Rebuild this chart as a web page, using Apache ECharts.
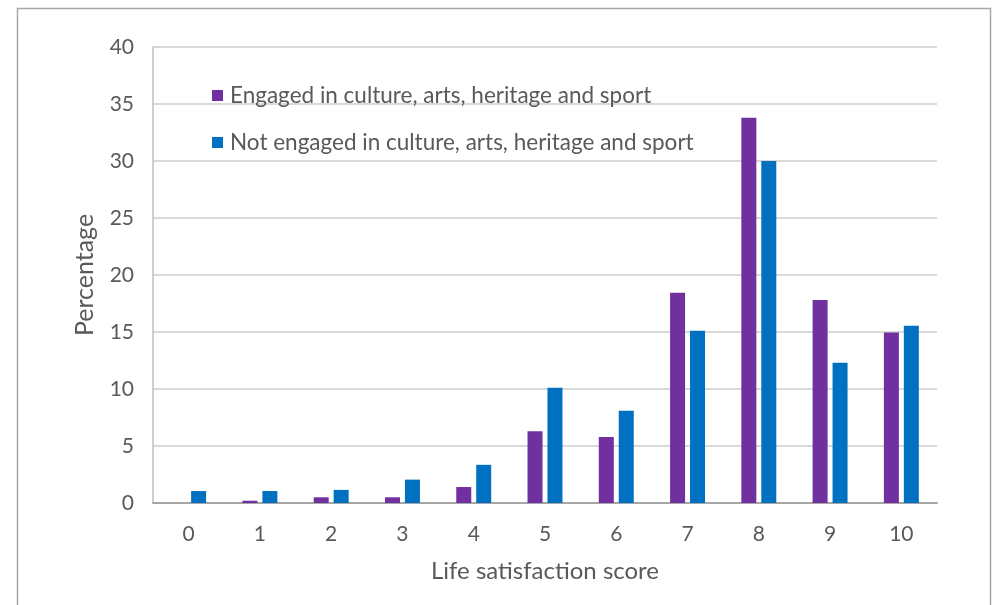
<!DOCTYPE html>
<html><head><meta charset="utf-8">
<script src="https://cdn.jsdelivr.net/npm/echarts@6/dist/echarts.min.js"></script>
<style>html,body{margin:0;padding:0;background:#fff}#c{width:999px;height:605px}</style>
</head><body><div id="c"></div>
<script>
const categories = ['0','1','2','3','4','5','6','7','8','9','10'];
const engaged = [0, 0.2, 0.5, 0.5, 1.4, 6.3, 5.8, 18.45, 33.8, 17.8, 14.95];
const notEngaged = [1.05, 1.05, 1.15, 2.05, 3.35, 10.1, 8.1, 15.1, 30.0, 12.3, 15.55];
const yTicks = [0, 5, 10, 15, 20, 25, 30, 35, 40];
const seriesNames = ['Engaged in culture, arts, heritage and sport', 'Not engaged in culture, arts, heritage and sport'];

const font = 'Lato';
const txt = '#595959';
const chart = echarts.init(document.getElementById('c'));
chart.setOption({
  animation: false,
  textStyle: {fontFamily: font},
  graphic: [{type: 'rect', shape: {x: 17.5, y: 8.5, width: 973, height: 620}, style: {fill: 'none', stroke: '#a6a6a6', lineWidth: 1.5}, silent: true}],
  grid: {left: 153, right: 62, top: 47, bottom: 102},
  legend: {
    left: 207, top: 79, orient: 'vertical', itemGap: 24,
    itemWidth: 11, itemHeight: 11, icon: 'rect',
    textStyle: {color: txt, fontSize: 22.5, fontFamily: font, padding: [0, 0, 0, 2]},
    data: seriesNames
  },
  xAxis: {
    type: 'category', data: categories,
    name: 'Life satisfaction score', nameLocation: 'middle', nameGap: 56,
    nameTextStyle: {color: txt, fontSize: 24},
    axisLine: {lineStyle: {color: '#a6a6a6', width: 2}},
    axisTick: {show: false},
    axisLabel: {color: txt, fontSize: 21, margin: 21}
  },
  yAxis: {
    type: 'value', min: yTicks[0], max: yTicks[yTicks.length-1], interval: 5,
    name: 'Percentage', nameLocation: 'middle', nameGap: 56,
    nameTextStyle: {color: txt, fontSize: 25},
    axisLine: {show: true, lineStyle: {color: '#bfbfbf', width: 1.5}},
    axisTick: {show: false},
    axisLabel: {color: txt, fontSize: 21, margin: 19},
    splitLine: {lineStyle: {color: '#d9d9d9', width: 2}}
  },
  series: [
    {name: seriesNames[0], type: 'bar', data: engaged, barWidth: 15, barGap: '33%',
     itemStyle: {color: '#7030a0'}},
    {name: seriesNames[1], type: 'bar', data: notEngaged, barWidth: 15,
     itemStyle: {color: '#0070c0'}}
  ]
});
</script></body></html>
